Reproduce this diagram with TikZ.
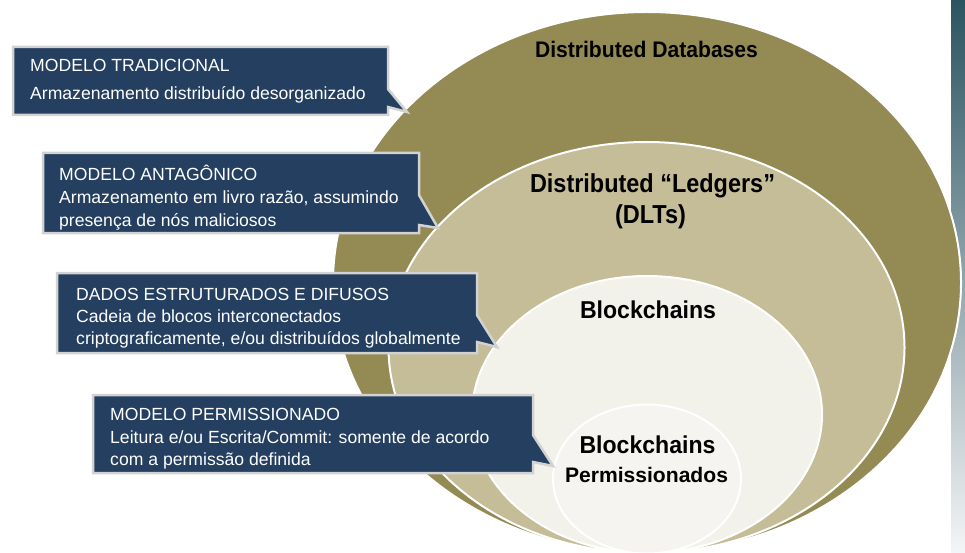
\documentclass[tikz,border=0pt]{standalone}
\usepackage{fontspec}
\usepackage{graphicx}
\setmainfont{Liberation Sans}
\definecolor{ringA}{HTML}{948A54}
\definecolor{ringB}{HTML}{C4BD97}
\definecolor{ringC}{HTML}{F2F1EA}
\definecolor{ringD}{HTML}{F5F4F0}
\definecolor{boxNavy}{HTML}{243F60}
\definecolor{boxEdge}{HTML}{D2D2D2}
\definecolor{stripTop}{HTML}{2B5461}
\definecolor{stripBot}{HTML}{F4F5F6}
\newcommand{\fitw}[2]{\resizebox{#1pt}{\height}{#2}}
\tikzset{
  ring/.style={draw=white, line width=2pt},
  callbox/.style={fill=boxNavy, draw=boxEdge, line width=2.5pt, line join=miter},
  ctext/.style={anchor=base west, inner sep=0pt, text=white, font=\fontsize{17.6}{20}\selectfont},
  ttl/.style={anchor=base, inner sep=0pt, text=black},
}
\begin{document}
\begin{tikzpicture}[x=1pt,y=-1pt]
\useasboundingbox (0,0) rectangle (965,553);
\fill[white] (0,0) rectangle (965,553);
\shade[top color=stripTop, bottom color=stripBot] (951,0) rectangle (965,553);
% nested ellipses
\draw[ring, fill=ringA] (647,282.5) ellipse [x radius=314pt, y radius=270.5pt];
\draw[ring, fill=ringB] (646.5,347.5) ellipse [x radius=258pt, y radius=205.5pt];
\draw[ring, fill=ringC] (647,414.5) ellipse [x radius=175pt, y radius=138.5pt];
\draw[ring, fill=ringD] (647,479) ellipse [x radius=94pt, y radius=74.5pt];
% titles
\node[ttl, font=\bfseries\fontsize{22.5}{24}\selectfont] (dd) at (646.5,58) {\fitw{223}{Distributed Databases}};
\node[ttl, font=\bfseries\fontsize{26}{28}\selectfont] (dl1) at (652.5,193) {\fitw{245}{Distributed “Ledgers”}};
\node[ttl, font=\bfseries\fontsize{26}{28}\selectfont] (dl2) at (650.5,223) {\fitw{71}{(DLTs)}};
\node[ttl, font=\bfseries\fontsize{24.4}{27}\selectfont] (bc) at (648,318) {\fitw{136}{Blockchains}};
\node[ttl, font=\bfseries\fontsize{24.4}{27}\selectfont] (bp1) at (647.5,453) {\fitw{136}{Blockchains}};
\node[ttl, font=\bfseries\fontsize{21}{24}\selectfont] (bp2) at (646.5,482) {\fitw{163}{Permissionados}};
% callout 1
\draw[callbox] (13,47) -- (388,47) -- (388,89) -- (407,112) -- (388,107) -- (388,115) -- (13,115) -- cycle;
\node[ctext] (c1a) at (30,72) {MODELO TRADICIONAL};
\node[ctext] (c1b) at (30,100) {Armazenamento distribuído desorganizado};
% callout 2
\draw[callbox] (43,153) -- (419,153) -- (419,195) -- (438,228) -- (419,225) -- (419,233) -- (43,233) -- cycle;
\node[ctext] (c2a) at (59,181) {MODELO ANTAGÔNICO};
\node[ctext] (c2b) at (59,204) {Armazenamento em livro razão, assumindo};
\node[ctext] (c2c) at (59,226) {presença de nós maliciosos};
% callout 3
\draw[callbox] (57,273) -- (477,273) -- (477,315) -- (497,347) -- (477,342) -- (477,353) -- (57,353) -- cycle;
\node[ctext] (c3a) at (76,300) {DADOS ESTRUTURADOS E DIFUSOS};
\node[ctext] (c3b) at (76,322) {Cadeia de blocos interconectados};
\node[ctext] (c3c) at (76,344) {criptograficamente, e/ou distribuídos globalmente};
% callout 4
\draw[callbox] (93,395) -- (533,395) -- (533,435) -- (553,466) -- (533,462) -- (533,473) -- (93,473) -- cycle;
\node[ctext] (c4a) at (110,420) {MODELO PERMISSIONADO};
\node[ctext] (c4b) at (110,443) {Leitura e/ou Escrita/Commit: somente de acordo};
\node[ctext] (c4c) at (110,465) {com a permissão definida};
\end{tikzpicture}
\end{document}
